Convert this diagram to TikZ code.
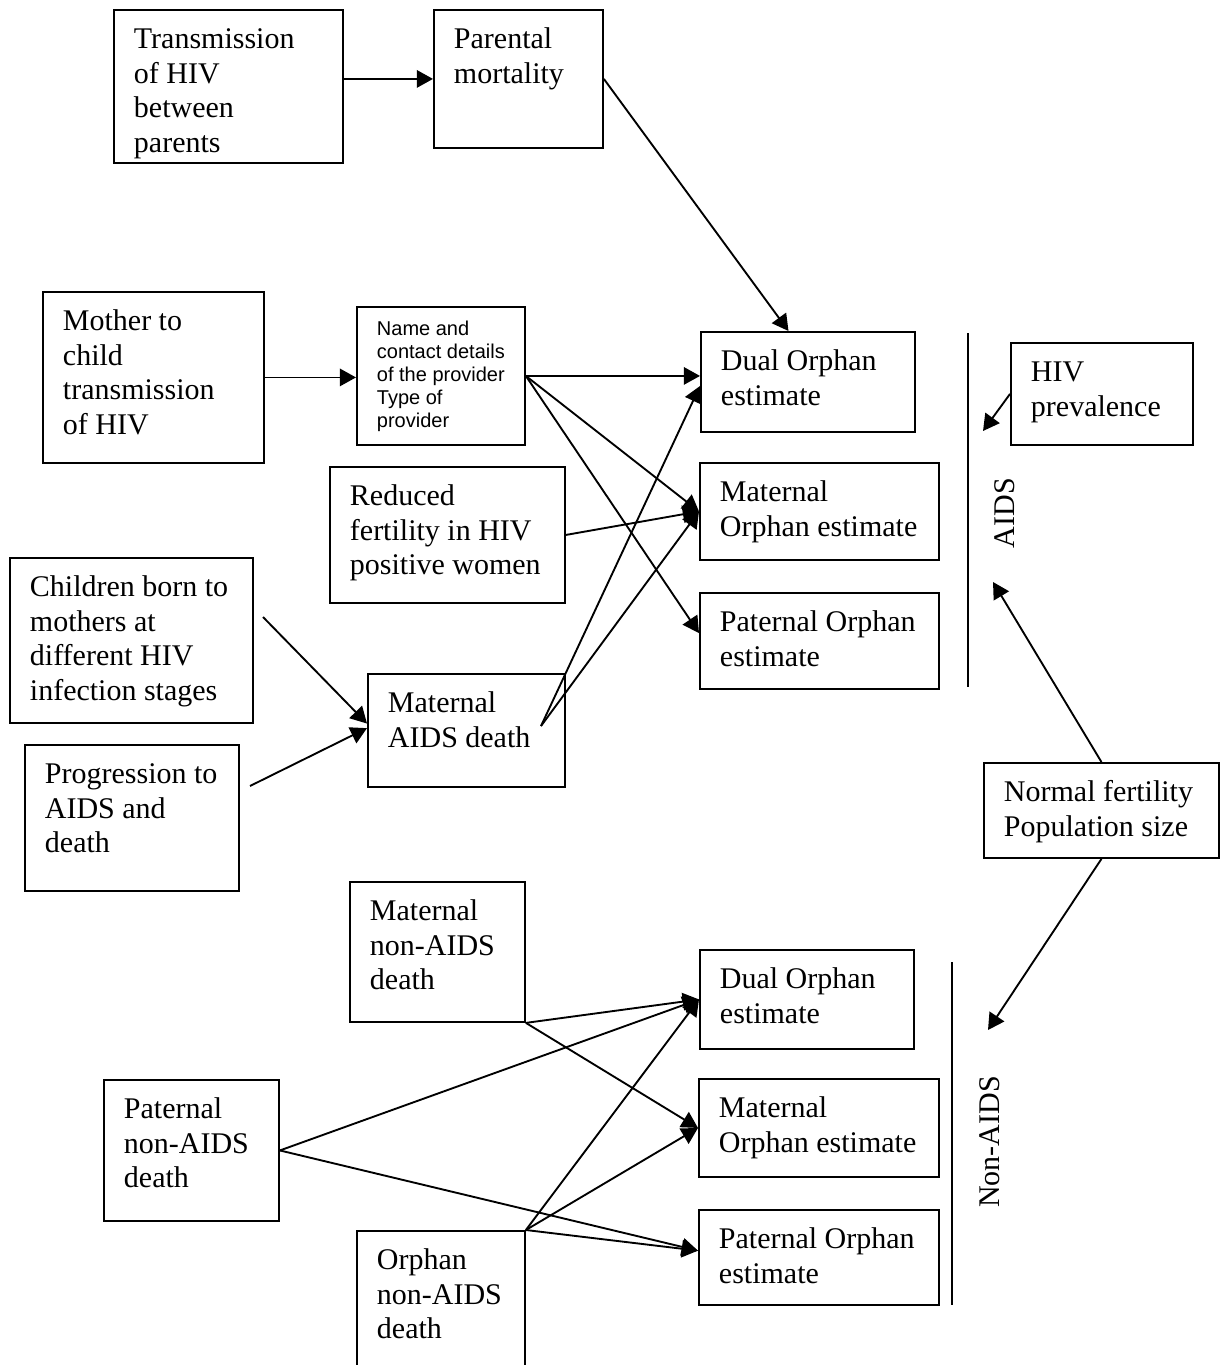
\documentclass[tikz,border=0pt]{standalone}
\usepackage{fontspec}
\setmainfont{Liberation Serif}
\newfontfamily\provfont{Liberation Sans}
\usetikzlibrary{arrows.meta, calc}
\newdimen\pxu
\pxu=0.4pt
% box text: [first baseline]{width}{height}{lines}, all in pixels
\newcommand{\bx}[4][39]{\parbox[c][#3\pxu][t]{#2\pxu}{\raggedright\leftskip=20\pxu\rule{0pt}{#1\pxu}#4}}
\tikzstyle{box} = [rectangle, draw=black, line width=0.75pt,
inner sep=0pt, anchor=north west,
font=\fontsize{12pt}{13.8pt}\selectfont]
\tikzstyle{small} = [font=\provfont\fontsize{8pt}{9.2pt}\selectfont]
\tikzstyle{side} = [rotate=90, inner sep=0pt,
font=\fontsize{12pt}{13.8pt}\selectfont]
\tikzstyle{sepline} = [line width=0.75pt]
\tikzstyle{arrow} = [line width=0.75pt, -{Triangle[length=6.5pt, width=7pt]}]

\begin{document}
\begin{tikzpicture}[x=0.4pt, y=-0.4pt]
\useasboundingbox (0,0) rectangle (1222,1365);

%-----------parents
\node (tran) [box] at (113,9) {\bx{229}{153}{Transmission\\of HIV\\between\\parents}};
\node (parm) [box] at (433,9) {\bx{169}{138}{Parental\\mortality}};

%-----------AIDS inputs
\node (mtct) [box] at (42,291) {\bx{221}{171}{Mother to\\child\\transmission\\of HIV}};
\node (prov) [box, small] at (356,306)
  {\bx[29]{168}{138}{Name and\\contact details\\of the provider\\Type of\\provider}};
\node (redf) [box] at (329,466) {\bx{235}{136}{Reduced\\fertility in HIV\\positive women}};
\node (chil) [box] at (9,557) {\bx{243}{165}{Children born to\\mothers at\\different HIV\\infection stages}};
\node (prog) [box] at (24,744) {\bx{214}{146}{Progression to\\AIDS and\\death}};
\node (mad) [box] at (367,673) {\bx{197}{113}{Maternal\\AIDS death}};

%-----------AIDS estimates
\node (dual1) [box] at (700,331) {\bx{214}{100}{Dual Orphan\\estimate}};
\node (mat1) [box] at (699,462) {\bx{239}{97}{Maternal\\Orphan estimate}};
\node (pat1) [box] at (699,592) {\bx{239}{96}{Paternal Orphan\\estimate}};

%-----------right side
\node (hivp) [box] at (1010,342) {\bx{182}{102}{HIV\\prevalence}};
\node (norm) [box] at (983,762) {\bx{235}{95}{Normal fertility\\Population size}};
\node (aids) [side] at (1005,513) {AIDS};
\node (nonaids) [side] at (990,1142) {Non-AIDS};
\coordinate (aidsa) at (968,333);
\coordinate (aidsb) at (968,687);
\coordinate (nona) at (952,962);
\coordinate (nonb) at (952,1305);

%-----------non-AIDS inputs
\node (mnad) [box] at (349,881) {\bx{175}{140}{Maternal\\non-AIDS\\death}};
\node (pnad) [box] at (103,1079) {\bx{175}{141}{Paternal\\non-AIDS\\death}};
\node (onad) [box] at (356,1230) {\bx{168}{170}{Orphan\\non-AIDS\\death}};

%-----------non-AIDS estimates
\node (dual2) [box] at (699,949) {\bx{214}{99}{Dual Orphan\\estimate}};
\node (mat2) [box] at (698,1078) {\bx{240}{98}{Maternal\\Orphan estimate}};
\node (pat2) [box] at (698,1209) {\bx{240}{95}{Paternal Orphan\\estimate}};

%-----------free ends
\coordinate (chilout) at (263,617);
\coordinate (progout) at (250,786);
\coordinate (madout) at (541,726);
\coordinate (aidstop) at (983,431);
\coordinate (aidsbot) at (993,582);
\coordinate (nonaidstop) at (988,1030);

\draw [sepline] (aidsa) -- (aidsb);
\draw [sepline] (nona) -- (nonb);

\draw [arrow] (tran.east |- parm.west) -- (parm.west);
\draw [arrow] (parm.east) -- ($(dual1.north west)!0.41!(dual1.north east)$);
\draw [arrow] (mtct.east) -- (prov.west |- mtct.east);
\draw [arrow] (prov.east) -- (dual1.west |- prov.east);
\draw [arrow] (prov.east) -- (mat1.west);
\draw [arrow] (prov.east) -- ($(pat1.north west)!0.42!(pat1.south west)$);
\draw [arrow] (redf.east) -- (mat1.west);
\draw [arrow] (chilout) -- ($(mad.north west)!0.44!(mad.south west)$);
\draw [arrow] (progout) -- ($(mad.north west)!0.48!(mad.south west)$);
\draw [arrow] (madout) -- ($(dual1.north west)!0.54!(dual1.south west)$);
\draw [arrow] (madout) -- (mat1.west);
\draw [arrow] (hivp.west) -- (aidstop);
\draw [arrow] (norm.north) -- (aidsbot);
\draw [arrow] (norm.south) -- (nonaidstop);
\draw [arrow] (mnad.south east) -- (dual2.west);
\draw [arrow] (mnad.south east) -- (mat2.west);
\draw [arrow] (pnad.east) -- (dual2.west);
\draw [arrow] (pnad.east) -- ($(pat2.north west)!0.43!(pat2.south west)$);
\draw [arrow] (onad.north east) -- (dual2.west);
\draw [arrow] (onad.north east) -- (mat2.west);
\draw [arrow] (onad.north east) -- ($(pat2.north west)!0.43!(pat2.south west)$);

\end{tikzpicture}
\end{document}
